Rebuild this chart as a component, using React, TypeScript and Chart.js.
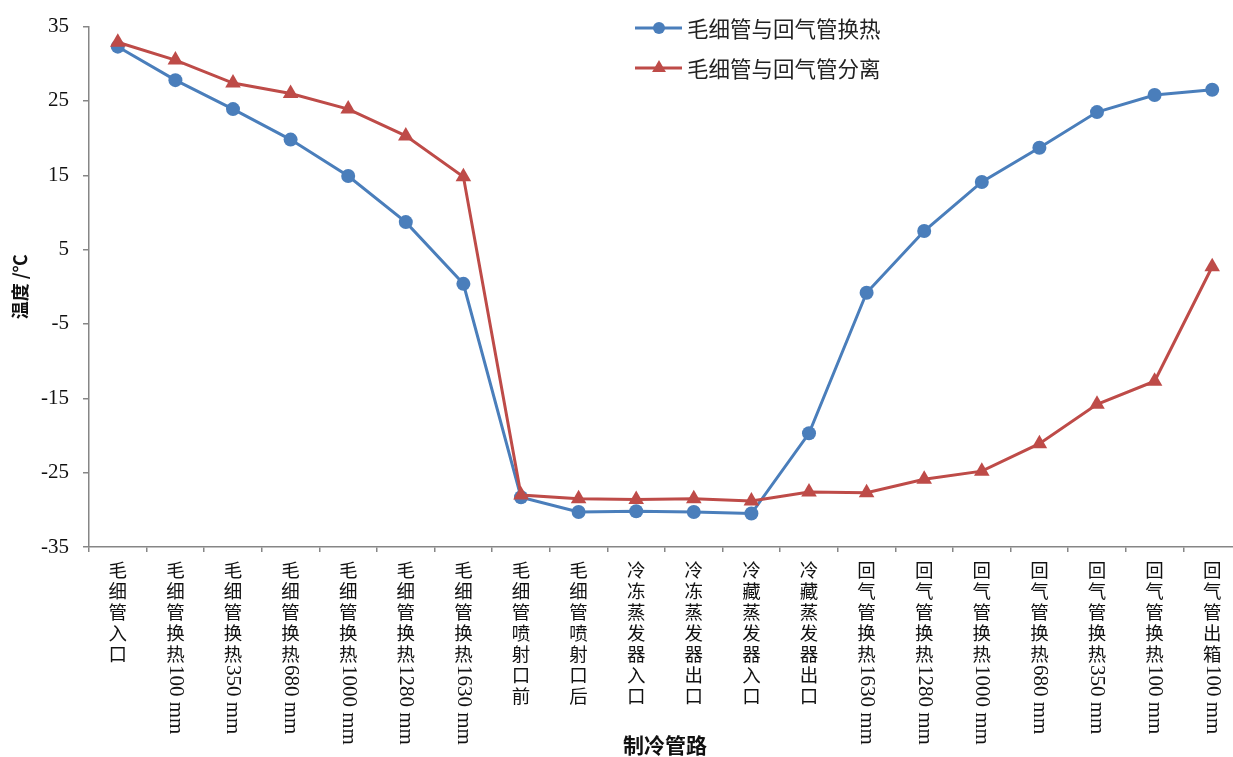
import React, { useEffect, useRef } from "react";
import { Chart, registerables } from "chart.js";

Chart.register(...registerables);

const categories = [
  "毛细管入口",
  "毛细管换热100 mm",
  "毛细管换热350 mm",
  "毛细管换热680 mm",
  "毛细管换热1000 mm",
  "毛细管换热1280 mm",
  "毛细管换热1630 mm",
  "毛细管喷射口前",
  "毛细管喷射口后",
  "冷冻蒸发器入口",
  "冷冻蒸发器出口",
  "冷藏蒸发器入口",
  "冷藏蒸发器出口",
  "回气管换热1630 mm",
  "回气管换热1280 mm",
  "回气管换热1000 mm",
  "回气管换热680 mm",
  "回气管换热350 mm",
  "回气管换热100 mm",
  "回气管出箱100 mm",
];

const seriesNames = ["毛细管与回气管换热", "毛细管与回气管分离"];

const exchangeValues = [
  32.3, 27.8, 23.9, 19.8, 14.9, 8.7, 0.4, -28.3, -30.3, -30.2, -30.3, -30.5,
  -19.7, -0.8, 7.5, 14.1, 18.7, 23.5, 25.8, 26.5,
];

const separateValues = [
  32.9, 30.5, 27.4, 26.0, 23.9, 20.3, 14.8, -28.0, -28.5, -28.6, -28.5, -28.8,
  -27.6, -27.7, -25.9, -24.8, -21.1, -15.8, -12.7, 2.7,
];

const yTicks = [-35, -25, -15, -5, 5, 15, 25, 35];

const BLUE = "#4A7EBB";
const RED = "#BE4B48";
const AXIS = "#868686";
const SERIF = '"Liberation Serif", "Times New Roman", serif';
const CJK = '"Noto Sans CJK SC", "Noto Sans", sans-serif';

const verticalLabels = {
  id: "verticalLabels",
  afterDraw(chart: any) {
    const ctx = chart.ctx;
    const xs = chart.scales.x;
    const top = xs.top;
    ctx.save();
    ctx.fillStyle = "#111";
    categories.forEach((label, i) => {
      const x = xs.getPixelForTick(i);
      const m = label.match(/^([\u4e00-\u9fff]+)(.*)$/);
      const cjk = m ? m[1] : label;
      const latin = m ? m[2] : "";
      ctx.font = `18.5px ${CJK}`;
      ctx.textAlign = "center";
      ctx.textBaseline = "middle";
      const chars = Array.from(cjk);
      chars.forEach((c, j) => {
        ctx.fillText(c, x, top + 23 + j * 21);
      });
      if (latin) {
        const y0 = top + 13 + chars.length * 21;
        ctx.save();
        ctx.translate(x + 1, y0);
        ctx.rotate(Math.PI / 2);
        ctx.font = `21px ${SERIF}`;
        ctx.textAlign = "left";
        ctx.textBaseline = "middle";
        ctx.fillText(latin, 0, 1);
        ctx.restore();
      }
    });
    ctx.restore();
  },
};

const innerLegend = {
  id: "innerLegend",
  afterDraw(chart: any) {
    const ctx = chart.ctx;
    const rows = [28, 68];
    chart.data.datasets.forEach((ds: any, i: number) => {
      const y = rows[i];
      ctx.save();
      ctx.strokeStyle = ds.borderColor;
      ctx.lineWidth = 3;
      ctx.beginPath();
      ctx.moveTo(635, y);
      ctx.lineTo(682, y);
      ctx.stroke();
      ctx.fillStyle = ds.pointBackgroundColor;
      ctx.beginPath();
      if (ds.pointStyle === "triangle") {
        const r = 8;
        ctx.moveTo(659, y - r);
        ctx.lineTo(659 + r * 0.866, y + r * 0.5);
        ctx.lineTo(659 - r * 0.866, y + r * 0.5);
        ctx.closePath();
      } else {
        ctx.arc(659, y, 6, 0, Math.PI * 2);
      }
      ctx.fill();
      ctx.fillStyle = "#222";
      ctx.font = `21.5px ${CJK}`;
      ctx.textAlign = "left";
      ctx.textBaseline = "middle";
      ctx.fillText(ds.label, 687, y + 1);
      ctx.restore();
    });
  },
};

export default function App() {
  const ref = useRef<HTMLCanvasElement | null>(null);

  useEffect(() => {
    if (!ref.current) return;
    const chart = new Chart(ref.current, {
      type: "line",
      data: {
        labels: categories,
        datasets: [
          {
            label: seriesNames[0],
            data: exchangeValues,
            borderColor: BLUE,
            backgroundColor: BLUE,
            pointBackgroundColor: BLUE,
            pointBorderColor: BLUE,
            pointStyle: "circle",
            pointRadius: 7,
            pointBorderWidth: 0,
            borderWidth: 3,
            tension: 0,
            order: 1,
          },
          {
            label: seriesNames[1],
            data: separateValues,
            borderColor: RED,
            backgroundColor: RED,
            pointBackgroundColor: RED,
            pointBorderColor: RED,
            pointStyle: "triangle",
            pointRadius: 9,
            pointBorderWidth: 0,
            borderWidth: 3,
            tension: 0,
            order: 0,
          },
        ],
      },
      options: {
        animation: false,
        responsive: false,
        devicePixelRatio: 1,
        layout: { padding: { left: 0, right: 8, top: 22, bottom: 0 } },
        plugins: {
          legend: { display: false },
          tooltip: { enabled: false },
        },
        scales: {
          x: {
            type: "category",
            offset: true,
            grid: {
              display: true,
              offset: true,
              drawOnChartArea: false,
              drawTicks: true,
              tickLength: 5,
              color: AXIS,
              lineWidth: 1.5,
            },
            border: { display: true, color: AXIS, width: 1.5 },
            ticks: { callback: () => "", autoSkip: false, maxRotation: 0 },
            title: {
              display: true,
              text: "制冷管路",
              color: "#111",
              font: { family: CJK, size: 21, weight: "bold", lineHeight: 1 },
              padding: { top: 0, bottom: 1 },
            },
            afterFit: (scale: any) => {
              scale.height = 210;
            },
          },
          y: {
            min: -35,
            max: 35,
            afterBuildTicks: (scale: any) => {
              scale.ticks = yTicks.map((v) => ({ value: v }));
            },
            grid: {
              display: true,
              drawOnChartArea: false,
              drawTicks: true,
              tickLength: 6,
              color: AXIS,
              lineWidth: 1.5,
            },
            border: { display: true, color: AXIS, width: 1.5 },
            ticks: {
              color: "#111",
              padding: 14,
              font: { family: SERIF, size: 21 },
            },
            title: {
              display: true,
              text: "温度 /℃",
              color: "#111",
              font: { family: CJK, size: 18, weight: "bold", lineHeight: 1 },
              padding: { top: 11, bottom: 0 },
            },
            afterFit: (scale: any) => {
              scale.width = 89;
            },
          },
        },
      },
      plugins: [verticalLabels, innerLegend],
    });
    return () => chart.destroy();
  }, []);

  return (
    <div
      style={{
        position: "absolute",
        left: 0,
        top: 0,
        width: 1233,
        height: 757,
        overflow: "hidden",
        background: "#fff",
      }}
    >
      <canvas
        ref={ref}
        width={1250}
        height={757}
        style={{ width: 1250, height: 757, display: "block" }}
      />
    </div>
  );
}
